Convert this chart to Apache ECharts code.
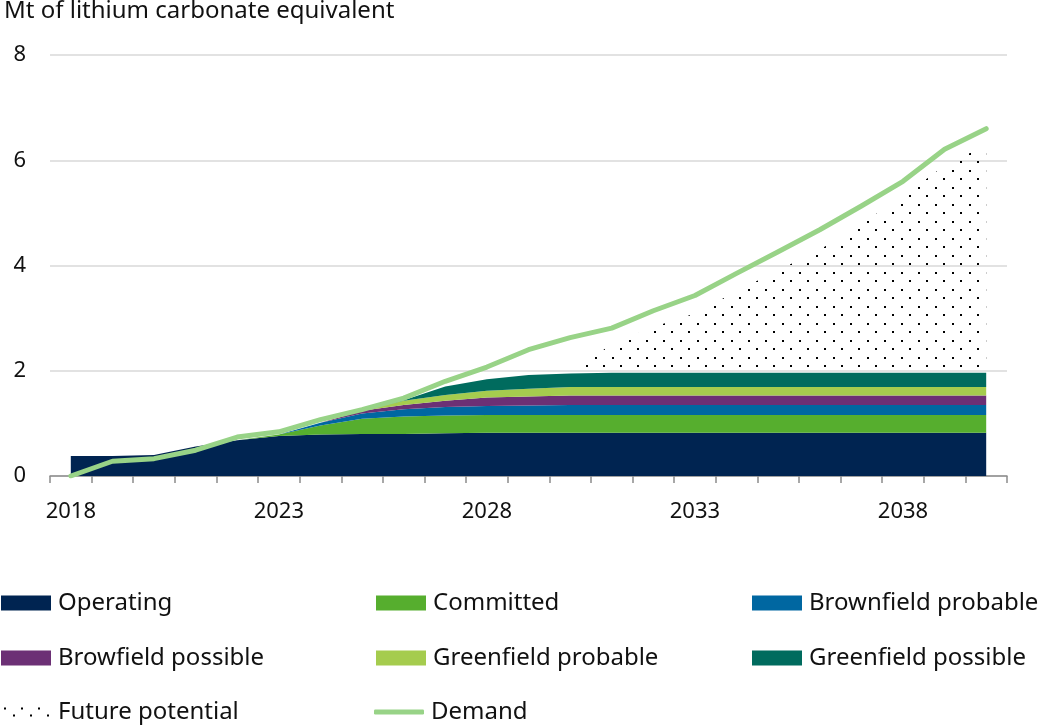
<!DOCTYPE html>
<html>
<head>
<meta charset="utf-8">
<script src="https://cdn.jsdelivr.net/npm/echarts@6/dist/echarts.min.js"></script>
<style>
  html, body { margin: 0; padding: 0; background: #ffffff; }
  #chart { width: 1042px; height: 726px; }
</style>
</head>
<body>
<div id="chart"></div>
<script>
// Lithium supply pipeline vs. demand, Mt of lithium carbonate equivalent
const years = ['2018','2019','2020','2021','2022','2023','2024','2025','2026','2027','2028','2029','2030',
               '2031','2032','2033','2034','2035','2036','2037','2038','2039','2040'];

const operating          = [0.38,0.38,0.40,0.56,0.68,0.76,0.79,0.80,0.80,0.81,0.82,0.82,0.82,0.82,0.82,0.82,0.82,0.82,0.82,0.82,0.82,0.82,0.82];
const committed          = [0,0,0,0,0,0.03,0.17,0.29,0.33,0.34,0.34,0.34,0.34,0.34,0.34,0.34,0.34,0.34,0.34,0.34,0.34,0.34,0.34];
const brownfieldProbable = [0,0,0,0,0,0,0.05,0.10,0.14,0.16,0.17,0.18,0.19,0.19,0.19,0.19,0.19,0.19,0.19,0.19,0.19,0.19,0.19];
const browfieldPossible  = [0,0,0,0,0,0,0,0.05,0.08,0.12,0.16,0.17,0.18,0.18,0.18,0.18,0.18,0.18,0.18,0.18,0.18,0.18,0.18];
const greenfieldProbable = [0,0,0,0,0,0,0,0.01,0.08,0.11,0.13,0.15,0.16,0.16,0.16,0.16,0.16,0.16,0.16,0.16,0.16,0.16,0.16];
const greenfieldPossible = [0,0,0,0,0,0,0,0,0.01,0.16,0.22,0.26,0.26,0.27,0.27,0.27,0.27,0.27,0.27,0.27,0.27,0.27,0.27];
const futurePotential    = [null,null,null,null,null,null,null,null,null,null,null,null,0,0.55,0.87,1.13,1.55,1.95,2.34,2.84,3.35,3.94,4.33];
const demand             = [0,0.28,0.33,0.49,0.74,0.84,1.07,1.26,1.48,1.80,2.07,2.40,2.63,2.81,3.14,3.43,3.85,4.26,4.68,5.13,5.60,6.21,6.60];

const yTicks = { min: 0, max: 8, interval: 2 };
const FONT = '"Noto Sans", "Open Sans", sans-serif';
const TEXT = '#111111';

const COLORS = {
  'Operating': '#002451',
  'Committed': '#56AE2E',
  'Brownfield probable': '#0067A1',
  'Browfield possible': '#6C3075',
  'Greenfield probable': '#A5CC4E',
  'Greenfield possible': '#006B5E',
  'Demand': '#98D387'
};

// staggered dot texture for the "Future potential" area
function dotTile() {
  const c = document.createElement('canvas');
  c.width = 17; c.height = 17;
  const g = c.getContext('2d');
  g.fillStyle = '#000000';
  g.fillRect(0, 0, 2, 2);
  g.fillRect(8, 8, 2, 2);
  return c;
}
// small dotted swatch for the legend entry
function dotSwatch() {
  const c = document.createElement('canvas');
  c.width = 50; c.height = 15;
  const g = c.getContext('2d');
  g.fillStyle = '#000000';
  const xs = [3, 12, 20, 29, 37, 46];
  xs.forEach((x, i) => g.fillRect(x, i % 2 ? 10 : 3, 2, 2));
  return c.toDataURL();
}

const supply = [
  ['Operating', operating],
  ['Committed', committed],
  ['Brownfield probable', brownfieldProbable],
  ['Browfield possible', browfieldPossible],
  ['Greenfield probable', greenfieldProbable],
  ['Greenfield possible', greenfieldPossible]
];

const series = supply.map(([name, values]) => ({
  name,
  type: 'line',
  stack: 'supply',
  data: values,
  symbol: 'none',
  showSymbol: false,
  lineStyle: { width: 0 },
  itemStyle: { color: COLORS[name] },
  areaStyle: { color: COLORS[name], opacity: 1 },
  emphasis: { disabled: true },
  z: 2
}));

series.push({
  name: 'Future potential',
  type: 'line',
  stack: 'supply',
  data: futurePotential,
  symbol: 'none',
  showSymbol: false,
  connectNulls: false,
  lineStyle: { width: 0 },
  itemStyle: { color: '#000000' },
  areaStyle: { color: { image: dotTile(), repeat: 'repeat' }, opacity: 1 },
  emphasis: { disabled: true },
  z: 2
});

series.push({
  name: 'Demand',
  type: 'line',
  data: demand,
  symbol: 'none',
  showSymbol: false,
  lineStyle: { width: 5, color: COLORS['Demand'], cap: 'round', join: 'round' },
  itemStyle: { color: COLORS['Demand'] },
  emphasis: { disabled: true },
  z: 5
});

// one legend block per entry, laid out in a three-column grid
function legendItem(name, left, centerY, opts) {
  opts = opts || {};
  const h = opts.itemHeight || 15;
  return {
    show: true,
    left: left,
    top: centerY - 13,
    padding: 0,
    itemWidth: 50,
    itemHeight: h,
    selectedMode: false,
    textStyle: { fontFamily: FONT, fontSize: 24, color: TEXT, lineHeight: 26, padding: [0, 0, 0, 2] },
    data: [Object.assign({ name: name, icon: opts.icon || 'rect',
                           itemStyle: { color: opts.color, borderWidth: 0 } }, opts.extra || {})]
  };
}

const colX = [1, 376, 752];
const rowY = [603, 658, 712];

const legends = [
  legendItem('Operating', colX[0], rowY[0], { color: COLORS['Operating'] }),
  legendItem('Committed', colX[1], rowY[0], { color: COLORS['Committed'] }),
  legendItem('Brownfield probable', colX[2], rowY[0], { color: COLORS['Brownfield probable'] }),
  legendItem('Browfield possible', colX[0], rowY[1], { color: COLORS['Browfield possible'] }),
  legendItem('Greenfield probable', colX[1], rowY[1], { color: COLORS['Greenfield probable'] }),
  legendItem('Greenfield possible', colX[2], rowY[1], { color: COLORS['Greenfield possible'] }),
  legendItem('Future potential', colX[0], rowY[2], { icon: 'image://' + dotSwatch(), color: '#000000' }),
  legendItem('Demand', colX[1] - 2, rowY[2], { icon: 'roundRect', itemHeight: 5, color: COLORS['Demand'] })
];

const chart = echarts.init(document.getElementById('chart'), null, { renderer: 'canvas' });
chart.setOption({
  animation: false,
  backgroundColor: '#ffffff',
  textStyle: { fontFamily: FONT },
  title: {
    text: 'Mt of lithium carbonate equivalent',
    left: -1,
    top: -6,
    textStyle: { fontFamily: FONT, fontSize: 24, fontWeight: 'normal', color: TEXT }
  },
  legend: legends,
  grid: { left: 50, right: 35, top: 55, bottom: 250, containLabel: false, outerBoundsMode: 'none' },
  xAxis: {
    type: 'category',
    data: years,
    boundaryGap: true,
    axisLine: { lineStyle: { color: '#8c8c8c', width: 1.5 } },
    axisTick: { show: true, interval: 0, length: 7, lineStyle: { color: '#8c8c8c', width: 1.5 } },
    axisLabel: { interval: 4, fontFamily: FONT, fontSize: 22, color: TEXT, margin: 25 },
    splitLine: { show: false }
  },
  yAxis: {
    type: 'value',
    min: yTicks.min,
    max: yTicks.max,
    interval: yTicks.interval,
    axisLine: { show: false },
    axisTick: { show: false },
    axisLabel: { fontFamily: FONT, fontSize: 22, color: TEXT, margin: 24 },
    splitLine: { lineStyle: { color: '#d9d9d9', width: 1.5 } }
  },
  series: series
});
</script>
</body>
</html>
